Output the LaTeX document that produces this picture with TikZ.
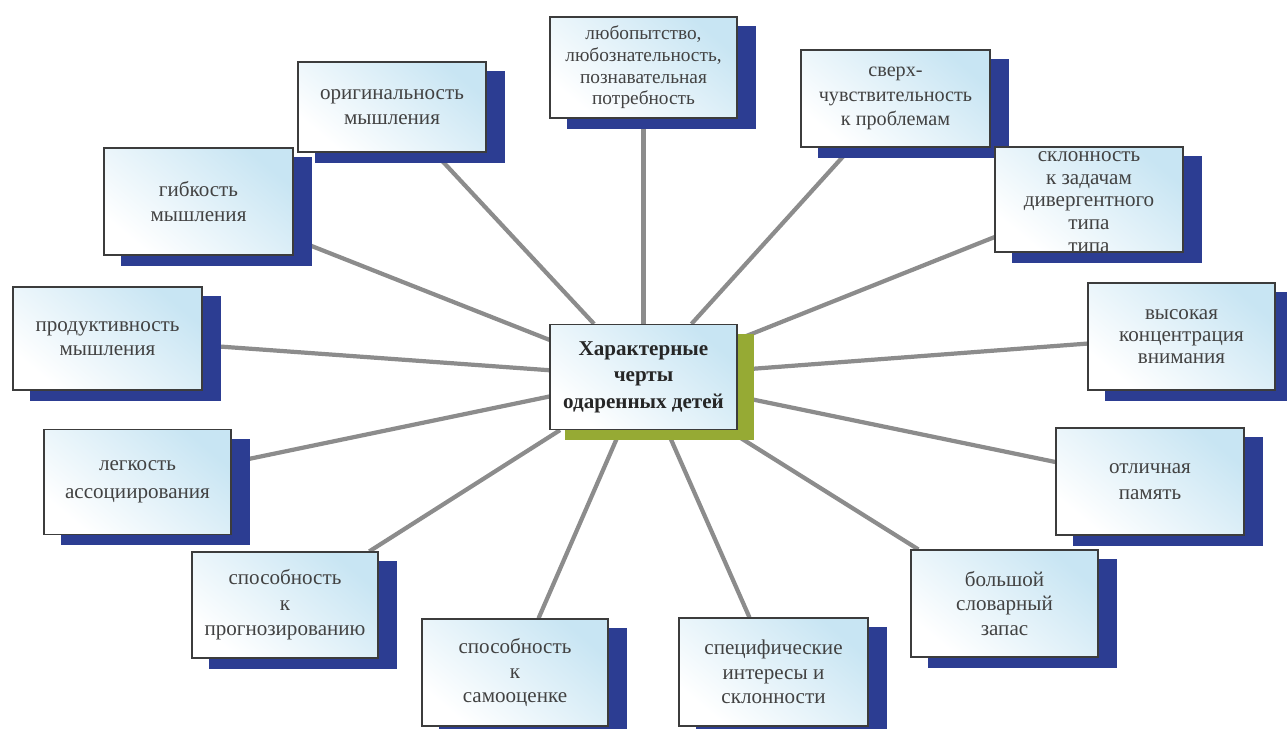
\documentclass[tikz,border=0pt]{standalone}
\usepackage{fontspec}
\setmainfont{Liberation Serif}
\usetikzlibrary{calc}
\definecolor{boxblue}{RGB}{200,229,243}
\definecolor{shadowblue}{RGB}{44,61,146}
\definecolor{shadowgreen}{RGB}{150,170,52}
\definecolor{conngray}{RGB}{140,140,140}
\definecolor{boxborder}{RGB}{60,60,60}
\definecolor{txtgray}{RGB}{66,66,66}
\pgfdeclarelayer{bg}
\pgfdeclarelayer{lines}
\pgfdeclarelayer{shadows}
\pgfsetlayers{bg,lines,shadows,main}
\tikzset{
  box/.style={draw=boxborder, line width=0.7pt, top color=boxblue, bottom color=white,
    shading angle=-40, align=center, text=txtgray, font=\fontsize{12}{14}\selectfont, inner sep=1pt},
  boxtxt/.style={align=center, text=txtgray, font=\fontsize{12}{13}\selectfont, inner sep=0pt},
  conn/.style={draw=conngray, line width=2.4pt},
  shad/.style={fill=shadowblue},
}
\begin{document}
\begin{tikzpicture}[x=0.02cm,y=-0.02cm]
\useasboundingbox (0,0) rectangle (1287,729);
\begin{pgfonlayer}{bg}
\fill[white] (0,0) rectangle (1287,729);
\end{pgfonlayer}

\node[box, minimum width=3.74cm, minimum height=2.10cm, text=black!85,
  font=\bfseries\fontsize{12}{15}\selectfont] (c) at (643.5,377)
  {Характерные\\черты\\одаренных детей};

\node[box, minimum width=3.74cm, minimum height=2.02cm, font=\fontsize{11}{12.3}\selectfont] (lub) at (643.5,67.5)
  {любопытство,\\любознательность,\\познавательная\\потребность};
\node[box, minimum width=3.76cm, minimum height=1.80cm] (orig) at (392,107)
  {оригинальность\\мышления};
\node[box, minimum width=3.78cm, minimum height=1.94cm, font=\fontsize{11.5}{14}\selectfont] (sverh) at (895.5,98.5)
  {сверх-\\чувствительность\\к проблемам};
\node[box, minimum width=3.78cm, minimum height=2.14cm] (gib) at (198.5,201.5)
  {гибкость\\мышления};
\node[box, minimum width=3.76cm, minimum height=2.10cm] (skl) at (1089,199.5) {};
\node[boxtxt] (skltxt) at (1089,202) {склонность\\к задачам\\дивергентного\\типа\\типа};
\node[box, minimum width=3.78cm, minimum height=2.06cm] (prod) at (107.5,338.5)
  {продуктивность\\мышления};
\node[box, minimum width=3.74cm, minimum height=2.14cm, font=\fontsize{12}{12.5}\selectfont] (vys) at (1181.5,336.5)
  {высокая\\концентрация\\внимания};
\node[box, minimum width=3.74cm, minimum height=2.10cm, font=\fontsize{12}{16}\selectfont] (leg) at (137.5,482)
  {легкость\\ассоциирования};
\node[box, minimum width=3.76cm, minimum height=2.14cm, font=\fontsize{12}{14.5}\selectfont] (pam) at (1150,481.5)
  {отличная\\память};
\node[box, minimum width=3.72cm, minimum height=2.12cm, font=\fontsize{12}{14.5}\selectfont] (prog) at (285,605)
  {способность\\к\\прогнозированию};
\node[box, minimum width=3.74cm, minimum height=2.14cm] (slov) at (1004.5,603.5)
  {большой\\словарный\\запас};
\node[box, minimum width=3.72cm, minimum height=2.14cm] (samo) at (515,672.5)
  {способность\\к\\самооценке};
\node[box, minimum width=3.78cm, minimum height=2.16cm] (spec) at (773.5,672)
  {специфические\\интересы и\\склонности};

\begin{pgfonlayer}{lines}
\foreach \n in {lub,orig,sverh,gib,skl,prod,vys,leg,pam,prog,slov,samo,spec}
  \draw[conn] (c) -- (\n);
\end{pgfonlayer}

\begin{pgfonlayer}{shadows}
\foreach \n in {lub,orig,sverh,gib,skl,prod,vys,leg,pam,prog,slov,samo,spec}
  \fill[shad] ($(\n.south west)+(18,10)$) rectangle ($(\n.north east)+(18,10)$);
\fill[shadowgreen] ($(c.south west)+(16,10)$) rectangle ($(c.north east)+(16,10)$);
\end{pgfonlayer}
\end{tikzpicture}
\end{document}
